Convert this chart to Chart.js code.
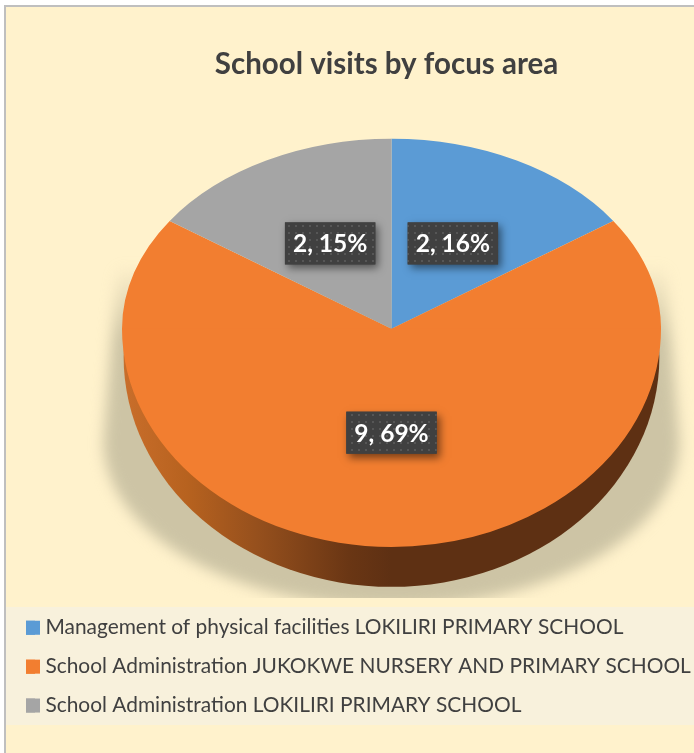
<!DOCTYPE html>
<html>
<head>
<meta charset="utf-8">
<title>School visits by focus area</title>
<script src="https://cdn.jsdelivr.net/npm/chart.js@4"></script>
<style>
  html, body { margin: 0; background: #fff; overflow: hidden; }
  canvas { display: block; }
</style>
</head>
<body>
<canvas id="myChart" width="694" height="753"></canvas>
<script>
const categories = [
  'Management of physical facilities LOKILIRI PRIMARY SCHOOL',
  'School Administration JUKOKWE NURSERY AND PRIMARY SCHOOL',
  'School Administration LOKILIRI PRIMARY SCHOOL'
];
const visits = [2, 9, 2];
const percentLabels = [16, 69, 15];
const sliceColors = ['#5b9bd5', '#f27e30', '#a5a5a5'];

const squashTop = 0.705;     // the pie is tilted, back half looks flatter
const squashBottom = 0.809;
const fontName = 'Lato, Carlito, sans-serif';

// dotted fill for the data labels
function dotPattern(ctx) {
  const c = document.createElement('canvas');
  c.width = 7; c.height = 7;
  const p = c.getContext('2d');
  p.fillStyle = '#404040';
  p.fillRect(0, 0, 7, 7);
  p.fillStyle = '#565656';
  p.fillRect(1, 1, 2, 2);
  return ctx.createPattern(c, 'repeat');
}

const tiltedPie = {
  id: 'tiltedPie',
  afterLayout(chart) {
    // title sits a little left of the pie and overlaps the chart area box
    chart.titleBlock.left -= 5;
    chart.titleBlock.right -= 5;
    chart.titleBlock.top += 43;
    chart.legend.left = 8;
    chart.legend.top -= 14;
  },
  beforeDraw(chart) {
    const ctx = chart.ctx;
    ctx.save();
    ctx.fillStyle = '#fff';
    ctx.fillRect(0, 0, 694, 753);
    ctx.fillStyle = '#bfbfbf';
    ctx.fillRect(4, 5, 690, 748);
    ctx.fillStyle = '#fff2cc';
    ctx.fillRect(6, 7, 688, 746);
    ctx.fillStyle = '#f8f1dc';
    ctx.fillRect(6, 607, 688, 118);
    ctx.restore();
  },
  beforeDatasetsDraw(chart) {
    const ctx = chart.ctx;
    const arcs = chart.getDatasetMeta(0).data;
    const cx = arcs[0].x, cy = arcs[0].y, r = arcs[0].outerRadius;

    // soft shadow on the floor
    ctx.save();
    ctx.beginPath();
    ctx.rect(6, 7, 688, 591);
    ctx.clip();
    ctx.filter = 'blur(7px)';
    const sg = ctx.createLinearGradient(0, cy - 65, 0, cy + 10);
    sg.addColorStop(0, 'rgba(205,196,165,0)');
    sg.addColorStop(1, 'rgba(205,196,165,1)');
    ctx.fillStyle = sg;
    ctx.beginPath();
    ctx.moveTo(cx - 274, cy - 60);
    ctx.lineTo(cx - 288, cy + 113);
    ctx.ellipse(cx, cy + 113, 288, 165, 0, Math.PI, 0, true);
    ctx.lineTo(cx + 274, cy - 60);
    ctx.closePath();
    ctx.fill();
    ctx.restore();

    // side wall of the pie, only the front shows
    ctx.save();
    ctx.beginPath();
    ctx.rect(cx - r - 2, cy, 2 * r + 4, r);
    ctx.clip();
    const wall = ctx.createLinearGradient(cx - r, 0, cx + r, 0);
    wall.addColorStop(0, '#c96e2b');
    wall.addColorStop(0.12, '#b7621f');
    wall.addColorStop(0.25, '#96501d');
    wall.addColorStop(0.42, '#6a3614');
    wall.addColorStop(0.5, '#5e3013');
    wall.addColorStop(1, '#5e3013');
    ctx.fillStyle = wall;
    ctx.beginPath();
    ctx.ellipse(cx, cy + 28, r * 0.994, 230, 0, 0, Math.PI * 2);
    ctx.fill();
    ctx.restore();

    // top face, two halves with their own squash
    [[squashTop, cy - r, r + 0.5], [squashBottom, cy, r]].forEach(([k, y, h]) => {
      ctx.save();
      ctx.beginPath();
      ctx.rect(cx - r - 2, y, 2 * r + 4, h);
      ctx.clip();
      ctx.translate(cx, cy);
      ctx.scale(1, k);
      ctx.translate(-cx, -cy);
      arcs.forEach(a => a.draw(ctx));
      ctx.restore();
    });
    return false;
  },
  afterDraw(chart) {
    const ctx = chart.ctx;

    // legend swatches are wider than the box to text gap allows
    chart.legend.legendHitBoxes.forEach((hit, i) => {
      ctx.fillStyle = sliceColors[i];
      ctx.fillRect(hit.left, hit.top + (hit.height - 14) / 2, 14, 14);
    });

    const pattern = dotPattern(ctx);
    chart.getDatasetMeta(0).data.forEach((arc, i) => {
      const mid = (arc.startAngle + arc.endAngle) / 2;
      const dist = arc.outerRadius * 0.49;
      const dy = Math.sin(mid) * dist;
      const x = arc.x + Math.cos(mid) * dist;
      const y = arc.y + dy * (dy < 0 ? squashTop : squashBottom) - 3;
      const text = visits[i] + ', ' + percentLabels[i] + '%';
      ctx.save();
      ctx.font = 'bold 24.5px ' + fontName;
      const w = ctx.measureText(text).width + 16;
      const h = 42;
      ctx.shadowColor = 'rgba(0,0,0,0.5)';
      ctx.shadowBlur = 8;
      ctx.shadowOffsetX = 3;
      ctx.shadowOffsetY = 4;
      ctx.fillStyle = '#404040';
      ctx.fillRect(x - w / 2, y - h / 2, w, h);
      ctx.shadowColor = 'transparent';
      ctx.fillStyle = pattern;
      ctx.fillRect(x - w / 2, y - h / 2, w, h);
      ctx.fillStyle = '#fff';
      ctx.textAlign = 'center';
      ctx.textBaseline = 'middle';
      ctx.fillText(text, x, y + 1);
      ctx.restore();
    });
  }
};

const ctx = document.getElementById('myChart');

new Chart(ctx, {
  type: 'pie',
  data: {
    labels: categories,
    datasets: [{
      data: visits,
      backgroundColor: sliceColors,
      borderWidth: 0,
      radius: 269.5
    }]
  },
  options: {
    responsive: false,
    animation: false,
    layout: { padding: { left: 89, right: 0, top: 0, bottom: 13 } },
    plugins: {
      tooltip: { enabled: false },
      title: {
        display: true,
        text: 'School visits by focus area',
        color: '#404040',
        font: { family: fontName, size: 29.5, weight: 'bold' },
        padding: { top: 4, bottom: 5 }
      },
      legend: {
        position: 'bottom',
        align: 'start',
        labels: {
          boxWidth: 9,
          boxHeight: 14,
          padding: 18,
          color: '#404040',
          font: { family: fontName, size: 20.9 }
        }
      }
    }
  },
  plugins: [tiltedPie]
});
</script>
</body>
</html>
